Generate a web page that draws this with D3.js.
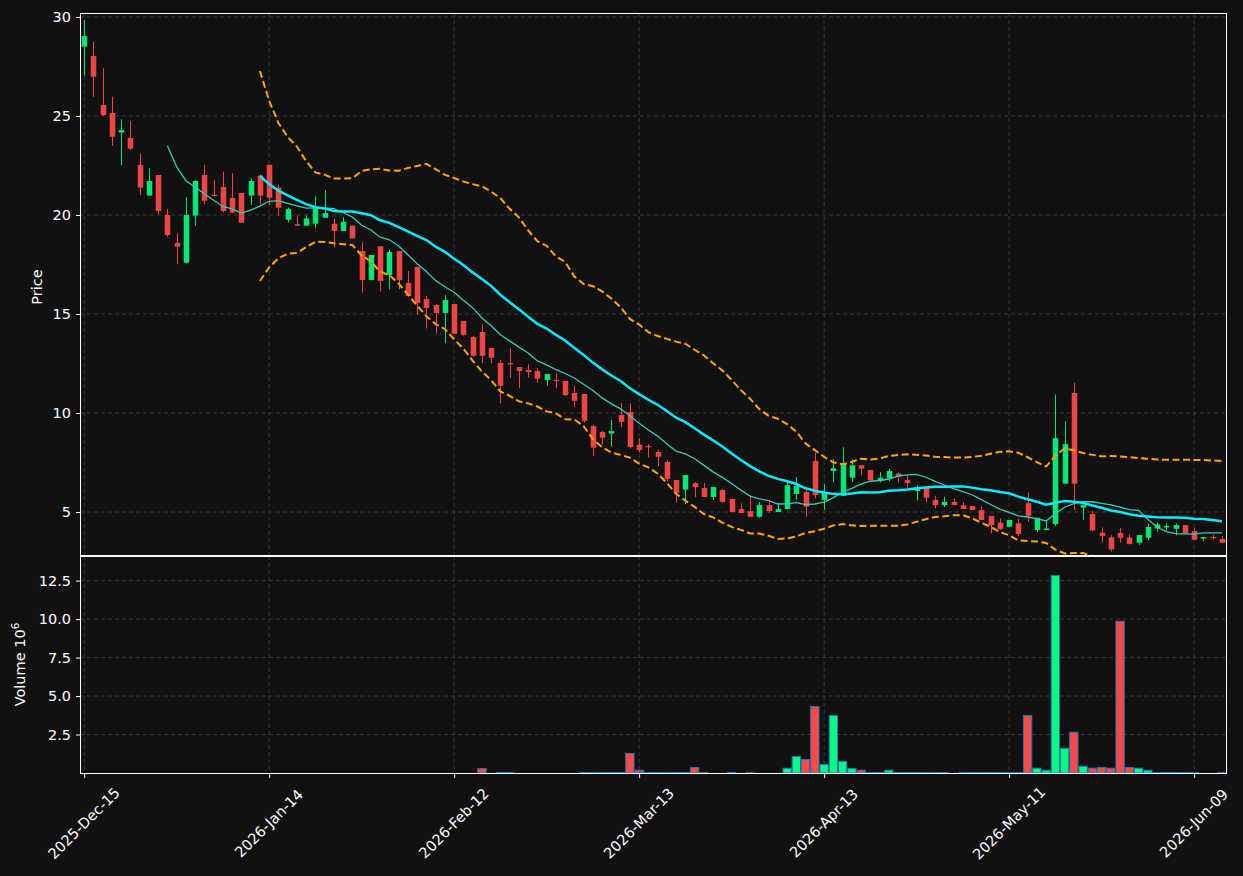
<!DOCTYPE html>
<html><head><meta charset="utf-8">
<script src="https://cdn.jsdelivr.net/npm/d3@7"></script>
<style>html,body{margin:0;padding:0;background:#111111;} svg{display:block;font-family:"DejaVu Sans",sans-serif;}</style>
</head><body><svg id="chart" width="1243" height="876"></svg>
<script>
// ---- data ----
const opens = [28.5,28.03,25.56,25.15,24.16,23.89,22.53,20.98,22.02,20.0,
18.59,17.59,19.97,22.02,21.02,21.41,20.86,21.11,20.98,21.99,
22.53,21.38,19.76,19.53,19.46,19.56,19.86,19.56,19.19,19.46,
18.18,16.72,18.42,16.97,18.18,16.57,17.37,15.76,15.45,15.05,
15.5,14.65,13.84,14.09,13.28,12.53,12.52,12.32,12.17,12.12,
11.67,11.67,11.62,11.01,10.96,9.34,9.04,8.96,9.9,10.05,
8.4,8.33,8.03,7.53,6.62,6.13,6.46,6.21,5.76,6.11,
5.66,5.15,5.05,4.76,5.35,5.0,5.15,5.91,6.01,7.58,
5.61,7.07,5.82,6.73,7.36,7.12,6.58,6.7,6.95,6.62,
6.06,6.23,5.61,5.35,5.51,5.34,5.3,5.1,4.8,4.46,
4.26,4.43,5.45,4.09,4.09,4.39,6.43,11.01,5.22,4.9,
3.96,3.72,3.94,3.71,3.45,3.7,4.17,4.22,4.15,4.34,
4.04,3.66,3.74,3.64];
const highs = [29.85,28.75,27.41,25.97,24.83,24.73,23.11,22.36,22.02,20.32,
19.07,20.89,21.75,22.53,21.77,22.19,22.11,21.11,21.85,22.05,
22.55,21.52,20.37,19.98,19.98,20.94,21.25,19.83,19.89,19.46,
18.62,17.98,18.42,18.23,18.18,17.17,17.37,15.91,15.5,15.96,
15.5,14.65,13.9,14.49,13.28,12.68,13.27,12.32,12.47,12.26,
11.97,12.0,11.62,11.36,10.96,9.4,9.09,9.65,10.49,10.49,
8.72,8.43,8.13,7.63,6.62,6.87,6.5,6.46,6.26,6.16,
5.66,5.44,5.76,5.49,5.55,5.45,6.58,6.77,6.1,7.99,
6.41,7.66,8.27,7.66,7.36,7.12,7.02,7.17,7.0,6.85,
6.36,6.23,5.82,5.77,5.68,5.49,5.3,5.3,4.8,4.68,
4.6,4.65,5.98,4.71,4.6,10.94,9.58,11.53,5.35,5.07,
4.22,3.84,4.19,3.86,3.84,4.42,4.47,4.42,4.42,4.34,
4.19,3.74,3.84,3.79];
const lows = [27.04,25.97,25.0,23.5,22.51,23.27,21.0,20.98,20.05,18.9,
17.51,17.55,19.46,20.54,20.97,20.13,20.1,19.61,20.51,20.54,
20.51,19.98,19.63,19.46,19.46,19.33,19.86,18.35,19.19,18.82,
16.08,16.72,16.13,16.25,16.25,15.91,14.98,14.27,14.02,13.52,
14.0,13.9,12.85,12.51,12.51,10.49,11.78,11.25,11.78,11.53,
11.38,11.25,10.86,10.32,9.5,7.84,8.4,8.3,9.28,8.2,
8.01,7.76,7.32,6.55,5.49,5.39,5.74,5.76,5.59,5.46,
5.0,4.95,4.76,4.71,4.96,5.0,5.15,5.64,4.76,5.69,
5.1,6.5,5.82,6.5,6.85,6.6,6.5,6.55,6.5,6.23,
5.59,5.49,5.18,5.25,5.35,5.15,5.1,4.6,3.92,4.1,
4.26,3.77,4.51,3.98,4.09,4.29,6.43,5.1,4.6,4.02,
3.47,3.0,3.45,3.38,3.34,3.58,4.01,4.06,3.82,3.92,
3.6,3.52,3.6,3.45];
const closes = [29.04,26.98,25.05,23.95,24.29,23.35,21.38,21.72,20.2,18.99,
18.4,20.0,21.72,20.72,20.98,20.2,20.12,19.61,21.72,20.98,
20.87,20.37,20.3,19.46,19.83,20.37,20.1,19.19,19.66,18.82,
16.72,17.98,16.67,18.13,16.72,15.91,15.56,15.3,15.05,15.71,
14.0,13.95,12.89,12.89,12.79,11.38,12.48,12.12,12.07,11.73,
11.97,11.62,10.91,10.62,9.6,8.25,8.75,9.09,9.55,8.28,
8.13,8.28,7.79,6.68,5.97,6.87,6.26,5.76,6.26,5.51,
5.0,4.95,4.76,5.35,5.05,5.15,6.36,6.31,5.27,5.85,
5.98,7.21,7.42,7.36,7.19,6.6,6.73,7.07,6.78,6.46,
6.23,5.72,5.35,5.51,5.35,5.15,5.1,4.6,4.34,4.14,
4.6,3.89,4.81,4.71,4.17,8.73,8.43,6.43,5.35,4.07,
3.79,3.11,3.7,3.38,3.84,4.24,4.37,4.3,4.34,3.92,
3.6,3.74,3.7,3.45];
// volume in millions
const volumes = [0,0,0,0,0,0,0,0,0,0,
0,0,0,0,0,0,0,0,0,0,
0,0,0,0,0,0,0,0,0,0,
0,0,0,0,0,0,0,0,0,0,
0,0,0,0.29,0,0.03,0.03,0,0,0,
0,0,0,0,0.03,0.03,0.03,0.03,0.03,1.27,
0.18,0.03,0.03,0.03,0.03,0.03,0.36,0.03,0,0,
0.03,0,0.03,0,0,0,0.31,1.07,0.88,4.32,
0.55,3.73,0.75,0.29,0.18,0.03,0.03,0.18,0.03,0.03,
0.03,0.03,0.03,0.03,0,0.03,0.03,0.03,0.03,0.03,
0.03,0.03,3.73,0.31,0.18,12.84,1.61,2.65,0.44,0.31,
0.36,0.31,9.86,0.36,0.31,0.18,0.03,0.03,0.03,0.03,
0.03,0,0,0.03];
const tickIndex = [0,20,40,60,80,100,120];
const tickLabels = ["2025-Dec-15","2026-Jan-14","2026-Feb-12","2026-Mar-13","2026-Apr-13","2026-May-11","2026-Jun-09"];
const priceTicks = [5,10,15,20,25,30];
const volumeTicks = [2.5,5.0,7.5,10.0,12.5];
const maShort = 10, maLong = 20, bbPeriod = 20, bbK = 2;

// ---- derived indicator series (rolling over closes) ----
const n = closes.length;
function rollingMean(p){return closes.map((_,i)=> i<p-1?null:d3.mean(closes.slice(i-p+1,i+1)));}
function rollingStd(p){return closes.map((_,i)=>{ if(i<p-1) return null; const w=closes.slice(i-p+1,i+1); const m=d3.mean(w); return Math.sqrt(d3.mean(w,v=>(v-m)*(v-m)));});}
const ma10 = rollingMean(maShort), ma20 = rollingMean(maLong);
const sd = rollingStd(bbPeriod);
const bbUp = ma20.map((m,i)=> m==null?null:m+bbK*sd[i]);
const bbLo = ma20.map((m,i)=> m==null?null:m-bbK*sd[i]);

// ---- layout ----
const L=80, R=1226, PT=13, PB=555, VT=556, VB=773;
const UP="#00e676", DOWN="#f04545", VUP="#00ff80", VDOWN="#ff4848";
const FS="14.5px";
const svg = d3.select("#chart");
svg.append("rect").attr("width",1243).attr("height",876).attr("fill","#111111");

const x = d3.scaleLinear().domain([-0.45, n-1+0.45]).range([L,R]);
const yP = d3.scaleLinear().domain([2.83, 30.2]).range([PB,PT]);
const yV = d3.scaleLinear().domain([0, 14.1]).range([VB,VT]);
const step = x(1)-x(0);

const defs = svg.append("defs");
defs.append("clipPath").attr("id","clipP").append("rect").attr("x",L).attr("y",PT).attr("width",R-L).attr("height",PB-PT);
defs.append("clipPath").attr("id","clipV").append("rect").attr("x",L).attr("y",VT).attr("width",R-L).attr("height",VB-VT);

const gridColor="#3a3a3a";
// grids
const grid = svg.append("g");
grid.selectAll(".hp").data(priceTicks).join("line").attr("x1",L).attr("x2",R).attr("y1",d=>yP(d)).attr("y2",d=>yP(d))
  .attr("stroke",gridColor).attr("stroke-dasharray","4,3").attr("stroke-width",1);
grid.selectAll(".hv").data(volumeTicks).join("line").attr("x1",L).attr("x2",R).attr("y1",d=>yV(d)).attr("y2",d=>yV(d))
  .attr("stroke",gridColor).attr("stroke-dasharray","4,3").attr("stroke-width",1);
[[PT,PB],[VT,VB]].forEach(([a,b])=>{
  grid.append("g").selectAll("line").data(tickIndex).join("line").attr("x1",d=>x(d)).attr("x2",d=>x(d)).attr("y1",a).attr("y2",b)
   .attr("stroke",gridColor).attr("stroke-dasharray","4,3").attr("stroke-width",1);
});

// candles
const gc = svg.append("g").attr("clip-path","url(#clipP)");
const idx = d3.range(n);
gc.selectAll(".wick").data(idx).join("line")
  .attr("x1",i=>Math.round(x(i))+0.5).attr("x2",i=>Math.round(x(i))+0.5)
  .attr("y1",i=>yP(highs[i])).attr("y2",i=>yP(lows[i]))
  .attr("stroke",i=>closes[i]>=opens[i]?UP:DOWN).attr("stroke-width",1);
const bw = step*0.6;
gc.selectAll(".body").data(idx).join("rect")
  .attr("x",i=>Math.round(x(i))+0.5-bw/2).attr("width",bw)
  .attr("y",i=>yP(Math.max(opens[i],closes[i])))
  .attr("height",i=>Math.max(1.2, Math.abs(yP(opens[i])-yP(closes[i]))))
  .attr("fill",i=>closes[i]>=opens[i]?UP:DOWN);

// indicator lines
function lineOf(arr){return d3.line().defined(d=>d!=null).x((d,i)=>x(i)).y(d=>yP(d))(arr);}
const gl = svg.append("g").attr("clip-path","url(#clipP)");
gl.append("path").attr("d",lineOf(ma10)).attr("fill","none").attr("stroke","#3cc8b4").attr("stroke-width",1.3);
gl.append("path").attr("d",lineOf(ma20)).attr("fill","none").attr("stroke","#00eeff").attr("stroke-width",2.5);
[bbUp,bbLo].forEach(a=>gl.append("path").attr("d",lineOf(a)).attr("fill","none").attr("stroke","#ffa500").attr("stroke-width",2).attr("stroke-dasharray","7,3.5"));

// volume bars
const gv = svg.append("g").attr("clip-path","url(#clipV)");
const vw = step*0.9;
gv.selectAll("rect").data(idx.filter(i=>volumes[i]>0)).join("rect")
  .attr("x",i=>x(i)-vw/2).attr("width",vw)
  .attr("y",i=>yV(volumes[i])).attr("height",i=>yV(0)-yV(volumes[i]))
  .attr("fill",i=>closes[i]>=opens[i]?VUP:VDOWN)
  .attr("stroke","#1f77b4").attr("stroke-width",1);

// spines
const sp = svg.append("g").attr("fill","none").attr("stroke","#ffffff").attr("stroke-width",1);
sp.append("rect").attr("x",L+0.5).attr("y",PT+0.5).attr("width",R-L).attr("height",PB-PT);
sp.append("rect").attr("x",L+0.5).attr("y",VT+0.5).attr("width",R-L).attr("height",VB-VT);

// axes
function styleAxis(g){g.select(".domain").remove(); g.selectAll(".tick line").attr("stroke","#ffffff"); g.selectAll(".tick text").attr("fill","#ffffff").style("font-size",FS).style("font-family","DejaVu Sans");}
svg.append("g").attr("transform",`translate(${L},0)`).call(d3.axisLeft(yP).tickValues(priceTicks).tickFormat(d3.format("d")).tickSize(4).tickPadding(5)).call(styleAxis);
svg.append("g").attr("transform",`translate(${L},0)`).call(d3.axisLeft(yV).tickValues(volumeTicks).tickFormat(d3.format(".1f")).tickSize(4).tickPadding(5)).call(styleAxis);
const xa = svg.append("g").attr("transform",`translate(0,${VB})`).call(d3.axisBottom(x).tickValues(tickIndex).tickFormat((d,i)=>tickLabels[i]).tickSize(5)).call(styleAxis);
xa.selectAll(".tick text").attr("text-anchor","middle").attr("dy",null).attr("y",null)
  .attr("transform","translate(0,51) rotate(-45)").attr("dominant-baseline","middle");

// axis titles
svg.append("text").attr("transform",`translate(42,${(PT+PB)/2 + 3}) rotate(-90)`).attr("text-anchor","middle")
  .attr("fill","#ffffff").style("font-size",FS).text("Price");
const vt = svg.append("text").attr("transform",`translate(25,${(VT+VB)/2}) rotate(-90)`).attr("text-anchor","middle")
  .attr("fill","#ffffff").style("font-size",FS);
vt.append("tspan").text("Volume  10");
vt.append("tspan").attr("dy",-6).style("font-size","10.5px").text("6");
</script></body></html>
